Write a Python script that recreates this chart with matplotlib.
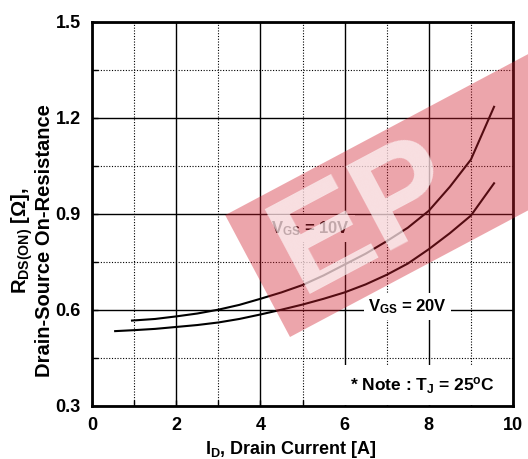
import numpy as np
import matplotlib.pyplot as plt
from matplotlib.patches import Polygon
from matplotlib.ticker import MultipleLocator

plt.rcParams['font.family'] = ['Liberation Sans', 'DejaVu Sans']
plt.rcParams['font.weight'] = 'bold'
plt.rcParams['axes.labelweight'] = 'bold'
plt.rcParams['mathtext.fontset'] = 'custom'
plt.rcParams['mathtext.rm'] = 'Liberation Sans:bold'
plt.rcParams['mathtext.it'] = 'Liberation Sans:bold'
plt.rcParams['mathtext.bf'] = 'Liberation Sans:bold'

# VGS = 10V curve
id_10 = [0.95, 1.5, 2.0, 2.5, 3.0, 3.5, 4.0, 4.5, 5.0, 5.5, 6.0, 6.5, 7.0, 7.5, 8.0, 8.5, 9.0, 9.55]
r_10 = [0.567, 0.572, 0.580, 0.589, 0.601, 0.616, 0.635, 0.655, 0.678, 0.708, 0.742, 0.776, 0.815, 0.857, 0.910, 0.985, 1.070, 1.235]

# VGS = 20V curve
id_20 = [0.55, 1.0, 1.5, 2.0, 2.5, 3.0, 3.5, 4.0, 4.5, 5.0, 5.5, 6.0, 6.5, 7.0, 7.5, 8.0, 8.5, 9.0, 9.55]
r_20 = [0.534, 0.537, 0.541, 0.547, 0.553, 0.561, 0.572, 0.586, 0.601, 0.617, 0.635, 0.655, 0.680, 0.710, 0.745, 0.790, 0.840, 0.895, 0.996]

x_ticks = [0, 2, 4, 6, 8, 10]
y_ticks = [0.3, 0.6, 0.9, 1.2, 1.5]

fig = plt.figure(figsize=(5.28, 4.59), dpi=100)
ax = fig.add_axes([92/528, 53/459, 421/528, 384/459])

ax.plot(id_10, r_10, color='black', lw=1.5, zorder=3)
ax.plot(id_20, r_20, color='black', lw=1.5, zorder=3)

ax.set_xlim(0, 10)
ax.set_ylim(0.3, 1.5)
ax.set_xticks(x_ticks)
ax.set_yticks(y_ticks)
ax.set_xticklabels([str(t) for t in x_ticks])
ax.set_yticklabels(['%.1f' % t for t in y_ticks])
ax.xaxis.set_minor_locator(MultipleLocator(1))
ax.yaxis.set_minor_locator(MultipleLocator(0.15))

ax.grid(which='major', color='black', lw=1, ls='-')
ax.grid(which='minor', color='black', lw=0.8, ls=(0, (1, 1.5)))
ax.tick_params(which='both', direction='in', length=4, width=1, labelsize=13, pad=8)
for s in ax.spines.values():
    s.set_linewidth(2)

ax.set_xlabel('I$_D$, Drain Current [A]', fontsize=13, fontweight='bold')
ax.xaxis.set_label_coords(0.473, -0.085)
ax.set_ylabel('R$_{DS(ON)}$ [Ω],\nDrain-Source On-Resistance', fontsize=14.5, fontweight='bold',
              linespacing=1.0)
ax.yaxis.set_label_coords(-0.09, 0.43)

box = dict(facecolor='white', edgecolor='none', pad=3)
ax.text(5.2, 0.855, 'V$_{GS}$ = 10V', fontsize=12, ha='center', va='center', bbox=box, zorder=4)
ax.text(7.5, 0.61, 'V$_{GS}$ = 20V', fontsize=12, ha='center', va='center', bbox=box, zorder=4)
ax.text(7.85, 0.365, '* Note : T$_J$ = 25$^o$C', fontsize=12.5, ha='center', va='center',
        bbox=dict(facecolor='white', edgecolor='none', pad=7), zorder=4)

# red watermark band with white letters
W, H = 528, 459
ang = np.deg2rad(28)
u = np.array([np.cos(ang), np.sin(ang)])
v = np.array([-np.sin(ang), np.cos(ang)])
p0 = np.array([290, 122])
corners = [p0, p0 + 420*u, p0 + 420*u + 138*v, p0 + 138*v]
corners = [(c[0]/W, c[1]/H) for c in corners]
fig.patches.append(Polygon(corners, closed=True, transform=fig.transFigure,
                           facecolor=(0.82, 0.12, 0.18), edgecolor='none', alpha=0.4, zorder=5))
mid = p0 + 69*v + 30*u
fig.text(mid[0]/W, mid[1]/H, 'EP', fontsize=100, color='white', alpha=0.65,
         rotation=28, rotation_mode='anchor', ha='left', va='center', zorder=6)

fig.savefig('out.png', dpi=100)
